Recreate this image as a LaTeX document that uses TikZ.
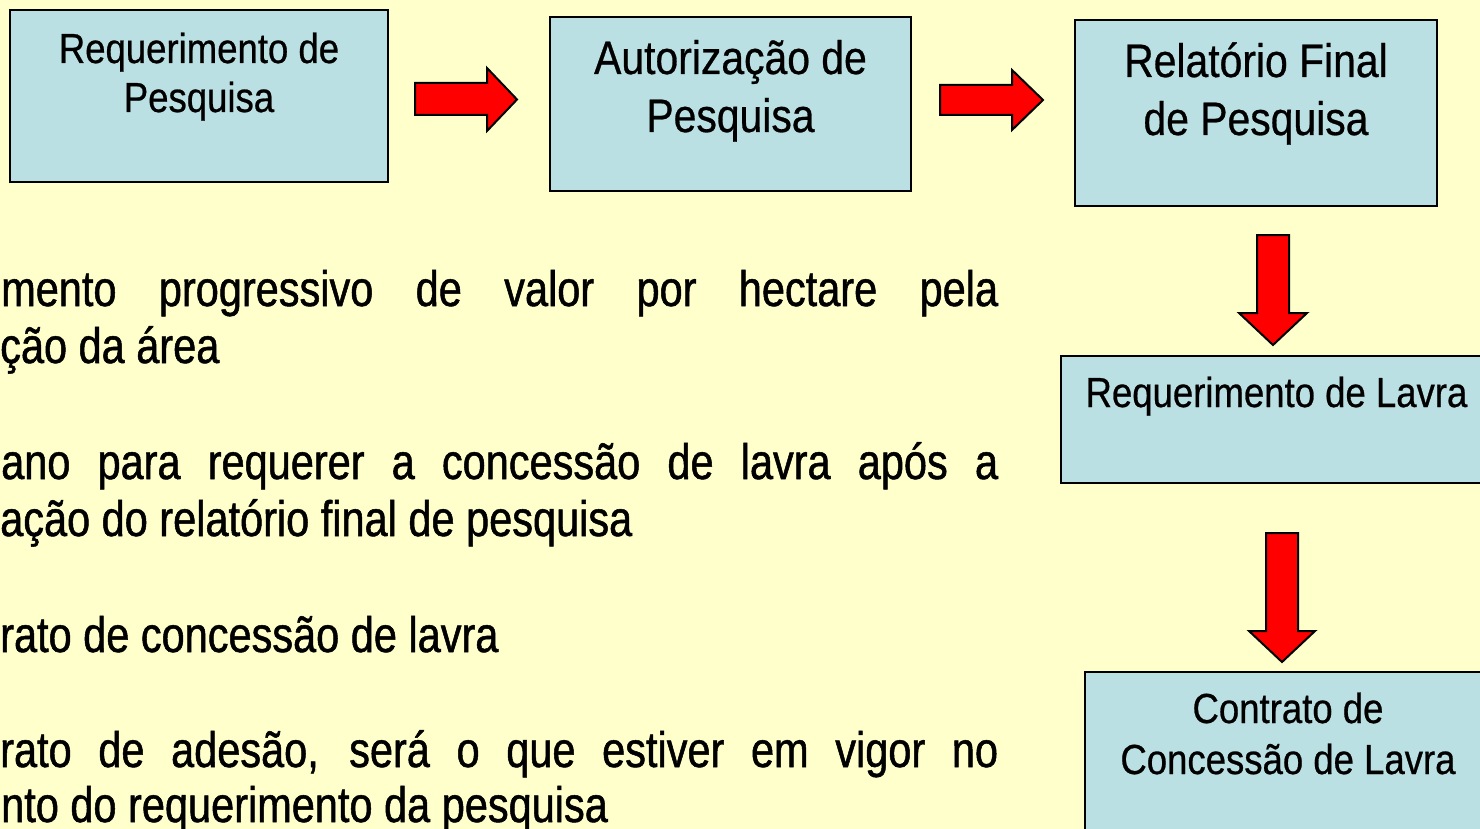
\documentclass[tikz,border=0pt]{standalone}
\usepackage{fontspec}
\setmainfont{Liberation Sans}
\newfontfamily\boxfont[FakeStretch=0.87,FakeBold=0.6]{Liberation Sans}
\newfontfamily\bodyfont[FakeStretch=0.83,FakeBold=1.0]{Liberation Sans}
\definecolor{bgyellow}{RGB}{255,255,204}
\definecolor{boxblue}{RGB}{187,224,227}
\definecolor{arrowred}{RGB}{255,0,0}
\tikzset{
  stagebox/.style={draw=black, line width=2pt, fill=boxblue},
  smalltxt/.style={anchor=base, inner sep=0pt, font=\boxfont\fontsize{42}{50}\selectfont},
  bigtxt/.style={anchor=base, inner sep=0pt, font=\boxfont\fontsize{47}{56}\selectfont},
  bodytxt/.style={anchor=base west, inner sep=0pt, font=\bodyfont\fontsize{50}{57}\selectfont},
  blockarrow/.style={draw=black, line width=2pt, fill=arrowred, line join=miter}
}
\begin{document}
\begin{tikzpicture}[x=1pt, y=-1pt]
\useasboundingbox (0,0) rectangle (1480,829);
\fill[bgyellow] (0,0) rectangle (1480,829);
\clip (0,0) rectangle (1480,829);

% boxes
\draw[stagebox] (10,10) rectangle (388,182);
\node[smalltxt] (b1t1) at (199,63) {Requerimento de};
\node[smalltxt] (b1t2) at (199,112) {Pesquisa};

\draw[stagebox] (550,17) rectangle (911,191);
\node[bigtxt] (b2t1) at (730.5,74) {Autorização de};
\node[bigtxt] (b2t2) at (730.5,132) {Pesquisa};

\draw[stagebox] (1075,20) rectangle (1437,206);
\node[bigtxt] (b3t1) at (1256,77) {Relatório Final};
\node[bigtxt] (b3t2) at (1256,135) {de Pesquisa};

\draw[stagebox] (1061,356) rectangle (1495,483);
\node[smalltxt] (b4t1) at (1276.5,407) {Requerimento de Lavra};

\draw[stagebox] (1085,672) rectangle (1491,880);
\node[smalltxt] (b5t1) at (1288,723) {Contrato de};
\node[smalltxt] (b5t2) at (1288,774) {Concessão de Lavra};

% block arrows
\draw[blockarrow] (415,83) -- (487,83) -- (487,68) -- (517,99.5) -- (487,131) -- (487,115) -- (415,115) -- cycle;
\draw[blockarrow] (940,85) -- (1012,85) -- (1012,70) -- (1043,100) -- (1012,130) -- (1012,115) -- (940,115) -- cycle;
\draw[blockarrow] (1257,235) -- (1289,235) -- (1289,313) -- (1307,313) -- (1273,345) -- (1239,313) -- (1257,313) -- cycle;
\draw[blockarrow] (1266,533) -- (1298,533) -- (1298,631) -- (1315,631) -- (1282,662) -- (1249,631) -- (1266,631) -- cycle;

% body text
\node[bodytxt] (l1) at (1,306) {\makebox[997pt][s]{mento progressivo de valor por hectare pela}};
\node[bodytxt] (l2) at (0,363) {ção da área};
\node[bodytxt] (l3) at (1,479) {\makebox[997pt][s]{ano para requerer a concessão de lavra após a}};
\node[bodytxt] (l4) at (0,536) {ação do relatório final de pesquisa};
\node[bodytxt] (l5) at (0,652) {rato de concessão de lavra};
\node[bodytxt] (l6) at (0,767) {\makebox[998pt][s]{rato de adesão, será o que estiver em vigor no}};
\node[bodytxt] (l7) at (1,822) {nto do requerimento da pesquisa};
\end{tikzpicture}
\end{document}
